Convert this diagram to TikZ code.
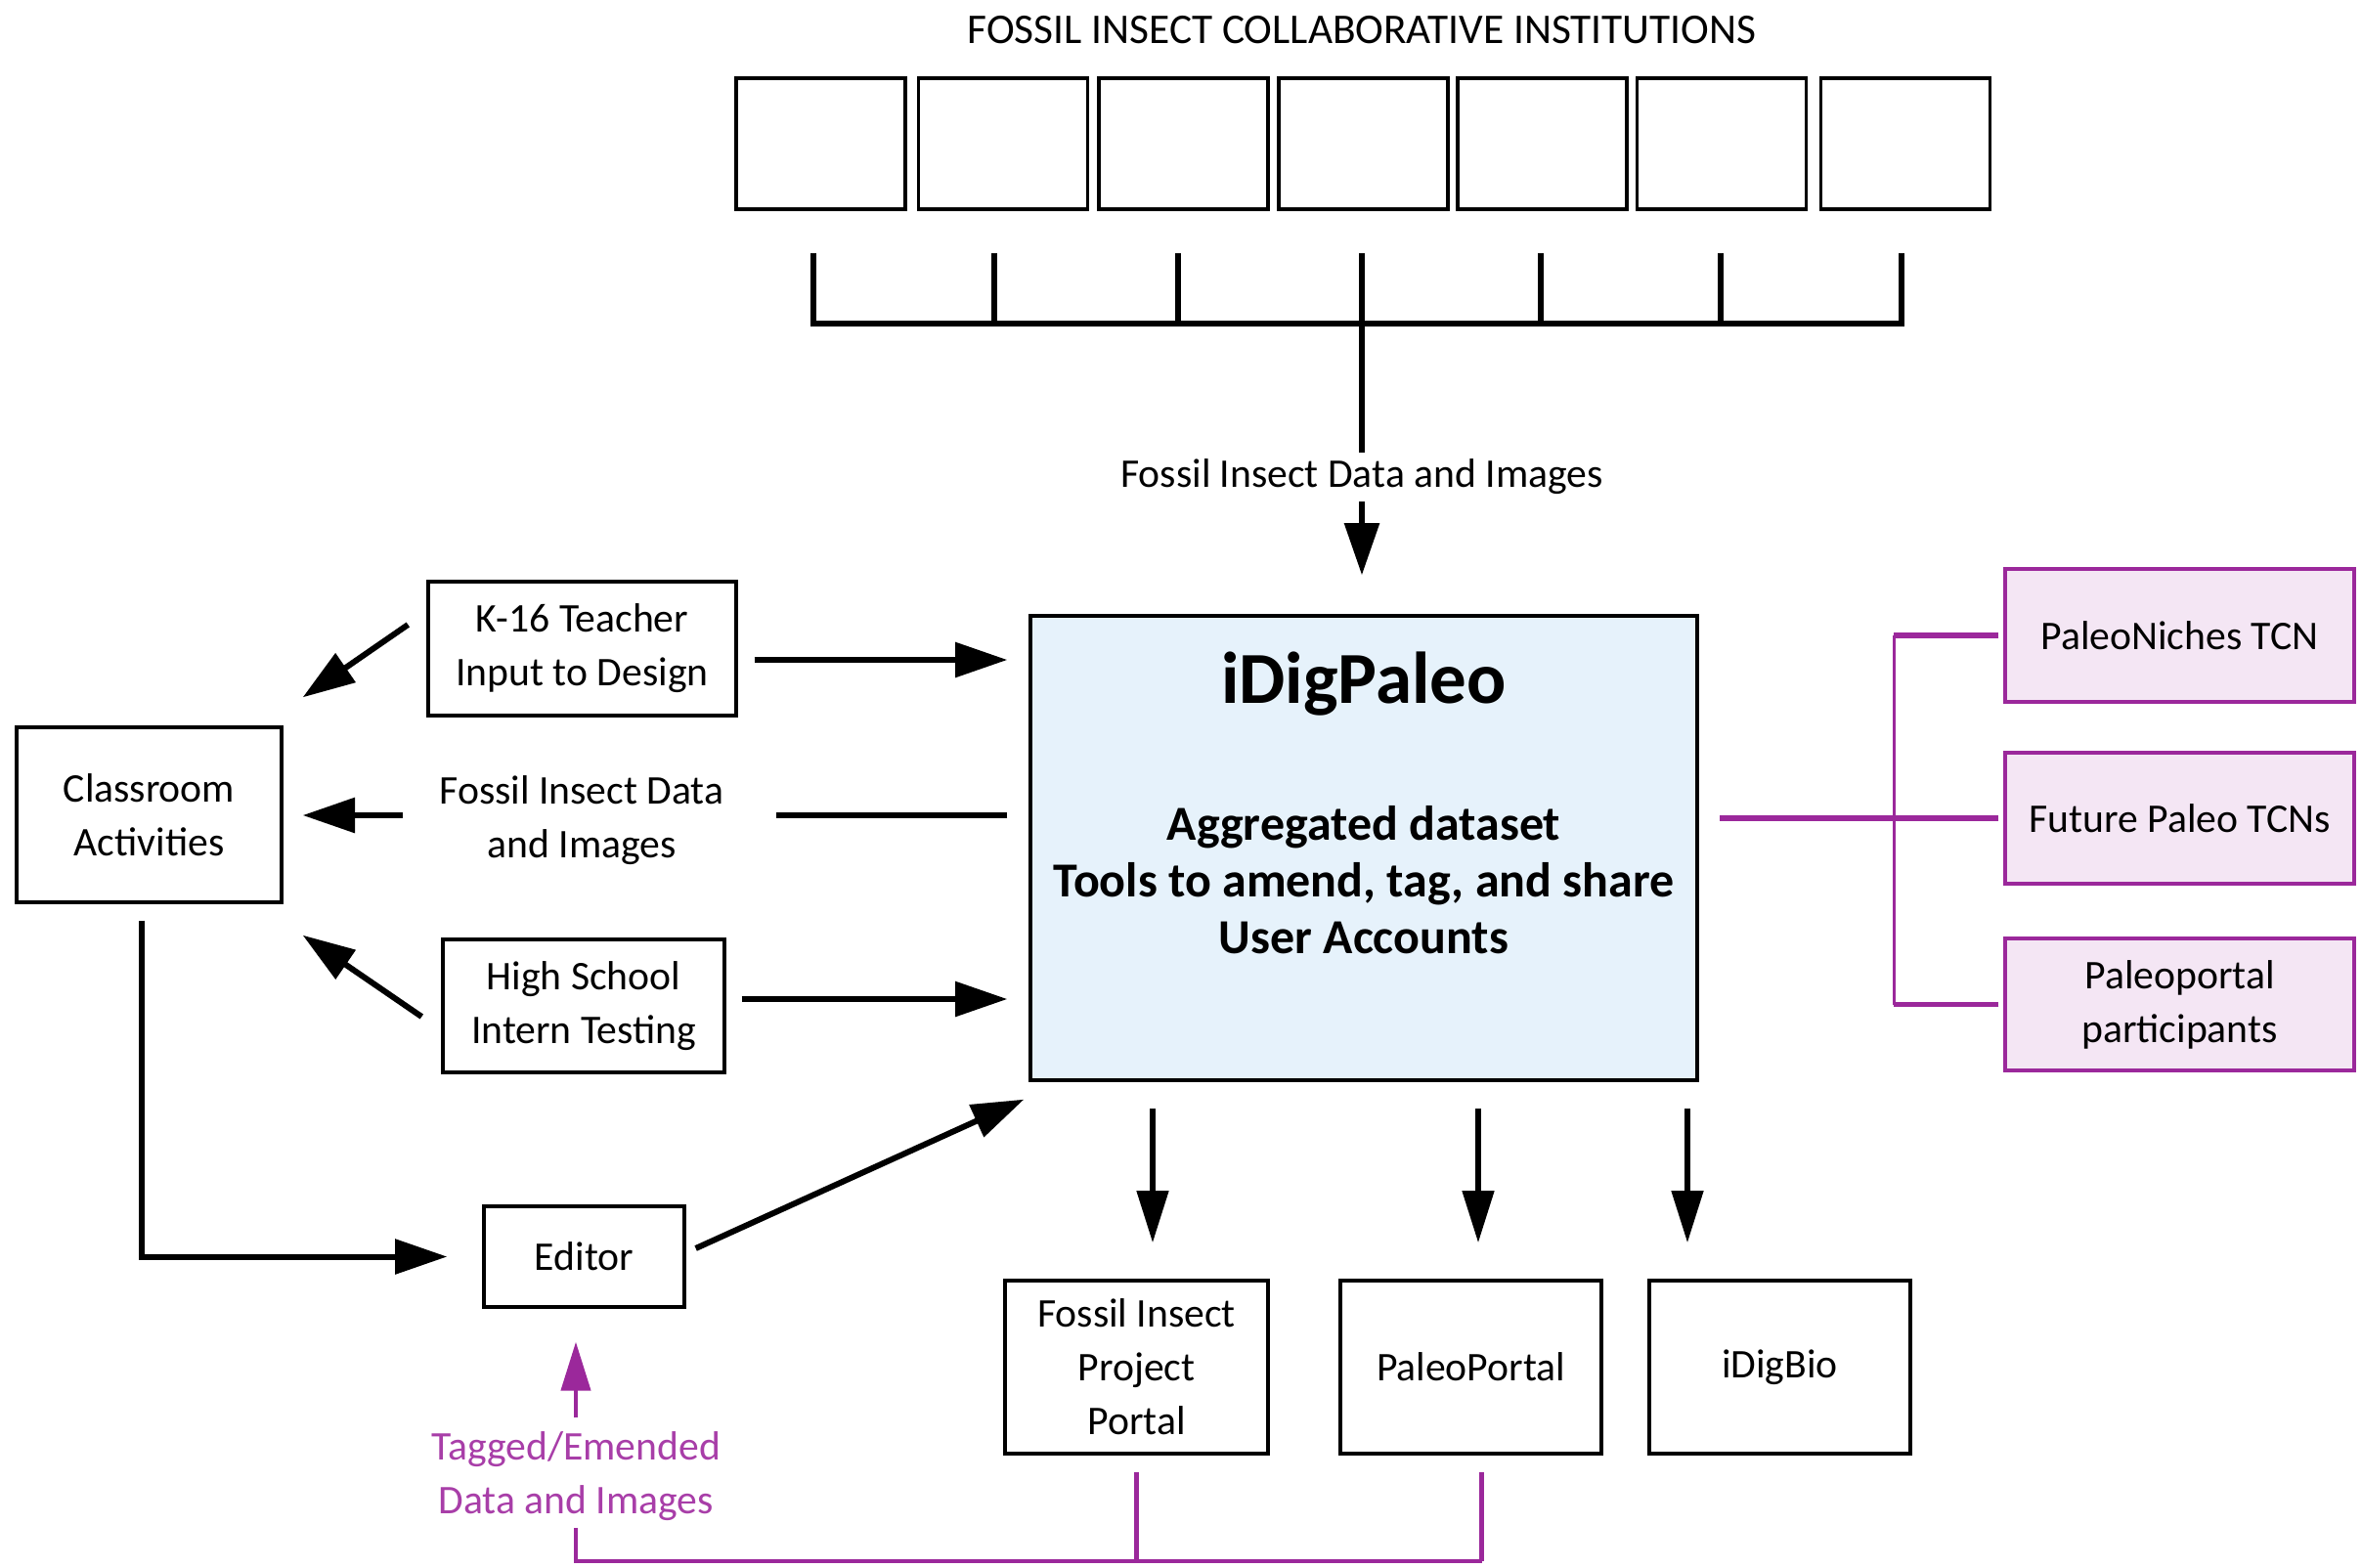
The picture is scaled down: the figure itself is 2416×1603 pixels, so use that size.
\documentclass[tikz,border=0pt]{standalone}
\usepackage{fontspec}
\setmainfont{Carlito}
\usetikzlibrary{arrows.meta}
\definecolor{pur}{RGB}{155,40,155}
\definecolor{ptext}{RGB}{168,62,168}
\definecolor{idfill}{RGB}{230,242,251}
\definecolor{pfill}{RGB}{244,230,244}
\newcommand\bfnt{\fontsize{12.5}{16.5}\selectfont}
\begin{document}
\begin{tikzpicture}[x=0.3pt,y=-0.3pt,
  box/.style={draw=black, line width=1pt, fill=white, inner sep=2pt, align=center, font=\bfnt},
  ibox/.style={draw=black, line width=1pt, minimum width=51.9pt, minimum height=40.2pt},
  pbox/.style={draw=pur, line width=1pt, fill=pfill, inner sep=2pt, align=center, font=\bfnt, minimum width=107.1pt},
  lbl/.style={inner sep=2pt, align=center, font=\bfnt},
  tk/.style={line width=1.6pt},
  ln/.style={line width=1.8pt},
  arr/.style={line width=1.8pt, -{Triangle[length=16pt,width=10.5pt]}},
  darr/.style={line width=1.8pt, -{Triangle[length=16pt,width=9.5pt]}},
  pthick/.style={draw=pur, line width=1.7pt},
  pthin/.style={draw=pur, line width=0.9pt},
  parr/.style={draw=pur, line width=1.3pt, -{Triangle[length=15pt,width=9pt]}}
]
\useasboundingbox (0,0) rectangle (2416,1603);

% title and institution boxes
\node[lbl, font=\fontsize{13}{15}\selectfont] (title) at (1393,31) {FOSSIL INSECT COLLABORATIVE INSTITUTIONS};
\foreach \i/\x in {1/839.5,2/1026,3/1210.5,4/1394.5,5/1577.5,6/1761,7/1949}
  \node[ibox] (b\i) at (\x,147) {};
\coordinate (bar) at (0,331);
\foreach \i/\d in {1/-7.5,2/-9,3/-5.5,4/-1.5,5/-1.5,6/-1,7/-4}
  \draw[tk] ([shift={(\d,43)}]b\i.south) -- ([xshift=\d*0.3pt]b\i.south |- bar);
\draw[ln, line cap=rect] ([xshift=-2.25pt]b1.south |- bar) -- ([xshift=-1.2pt]b7.south |- bar);

% iDigPaleo
\node[draw=black, line width=1pt, fill=idfill, minimum width=204.6pt, minimum height=142.5pt] (idig) at (1395,867.5) {};
\node[font=\bfseries\fontsize{22.5}{26}\selectfont] (idt) at (1395,700) {iDigPaleo};
\node[font=\bfseries\fontsize{15}{17.4}\selectfont, align=center] (idb) at (1395,900) {Aggregated dataset\\Tools to amend, tag, and share\\User Accounts};

\node[lbl] (fid) at (1393,488) {Fossil Insect Data and Images};
\draw[tk] (fid.north |- bar) -- (fid.north);
\draw[arr, shorten >=12pt] (fid.south) -- (fid.south |- idig.north);

% left side
\node[box, minimum width=94.5pt, minimum height=41.1pt] (k16) at (595.5,663.5) {K-16 Teacher\\Input to Design};
\node[box, minimum width=81.3pt, minimum height=53.7pt] (cls) at (152.5,833.5) {Classroom\\Activities};
\node[box, minimum width=86.4pt, minimum height=40.8pt] (hs) at (597,1029) {High School\\Intern Testing};
\node[box, minimum width=61.5pt, minimum height=30.9pt] (ed) at (597.5,1285.5) {Editor};
\node[lbl] (mid) at (595,839) {Fossil Insect Data\\and Images};

\coordinate (k16o) at ([shift={(17,11.5)}]k16.east);
\draw[arr, shorten >=6.6pt] (k16o) -- (k16o -| idig.west);
\draw[arr] ([shift={(-19,-24.5)}]k16.west) -- ([shift={(20,-29)}]cls.north east);

\coordinate (midy) at (0,834);
\draw[ln, shorten <=6.6pt, shorten >=14pt] (idig.west |- midy) -- (mid.east |- midy);
\draw[arr, shorten <=9pt, shorten >=6pt] (mid.west |- midy) -- (cls.east |- midy);

\coordinate (hso) at ([shift={(16,-7)}]hs.east);
\draw[arr, shorten >=6.6pt] (hso) -- (hso -| idig.west);
\draw[arr] ([shift={(-20,11)}]hs.west) -- ([shift={(20,32)}]cls.south east);

\draw[arr, shorten >=10.8pt] ([shift={(-7.5,17)}]cls.south) |- (ed.west);
\draw[arr] ([shift={(10,-8.5)}]ed.east) -- ([shift={(-5,18)}]idig.south west);

% bottom outputs
\node[box, minimum width=80.7pt, minimum height=53.1pt] (fipp) at (1162.5,1398.5) {Fossil Insect\\Project\\Portal};
\node[box, minimum width=80.1pt, minimum height=53.1pt] (pp) at (1504.5,1398.5) {PaleoPortal};
\node[box, minimum width=80.1pt, minimum height=53.1pt] (idb2) at (1820.5,1398.5) {iDigBio};
\coordinate (d1) at (1179,1134);
\coordinate (d2) at (1512,1134);
\coordinate (d3) at (1726,1134);
\draw[darr, shorten >=11.1pt] (d1) -- (d1 |- fipp.north);
\draw[darr, shorten >=11.1pt] (d2) -- (d2 |- pp.north);
\draw[darr, shorten >=11.1pt] (d3) -- (d3 |- idb2.north);

% tagged feedback
\node[lbl, text=ptext] (tag) at (589,1510) {Tagged/Emended\\Data and Images};
\draw[parr, shorten <=2pt, shorten >=10.2pt] (tag.north) -- (tag.north |- ed.south);
\coordinate (pb) at (0,1597);
\draw[pthick, line width=1.4pt] (tag.south) -- (tag.south |- pb) -- ([xshift=3.3pt]pp.south |- pb);
\draw[pthick, line width=1.4pt, shorten <=5.1pt] (fipp.south) -- (fipp.south |- pb);
\draw[pthick, line width=1.4pt, shorten <=5.1pt] ([xshift=3.3pt]pp.south) -- ([xshift=3.3pt]pp.south |- pb);

% right side partners
\node[pbox, minimum height=40.8pt] (pn) at (2229.5,650) {PaleoNiches TCN};
\node[pbox, minimum height=40.2pt] (fut) at (2229.5,837) {Future Paleo TCNs};
\node[pbox, minimum height=40.5pt] (ppp) at (2229.5,1027.5) {Paleoportal\\participants};
\coordinate (vx) at (1937,0);
\draw[pthin] (pn.west -| vx) -- (ppp.west -| vx);
\draw[pthick, shorten <=1.5pt] (pn.west) -- (pn.west -| vx);
\draw[pthick, shorten <=1.5pt] (ppp.west) -- (ppp.west -| vx);
\draw[pthick, shorten <=1.5pt, shorten >=6.3pt] (fut.west) -- (idig.east |- fut.west);
\end{tikzpicture}
\end{document}
